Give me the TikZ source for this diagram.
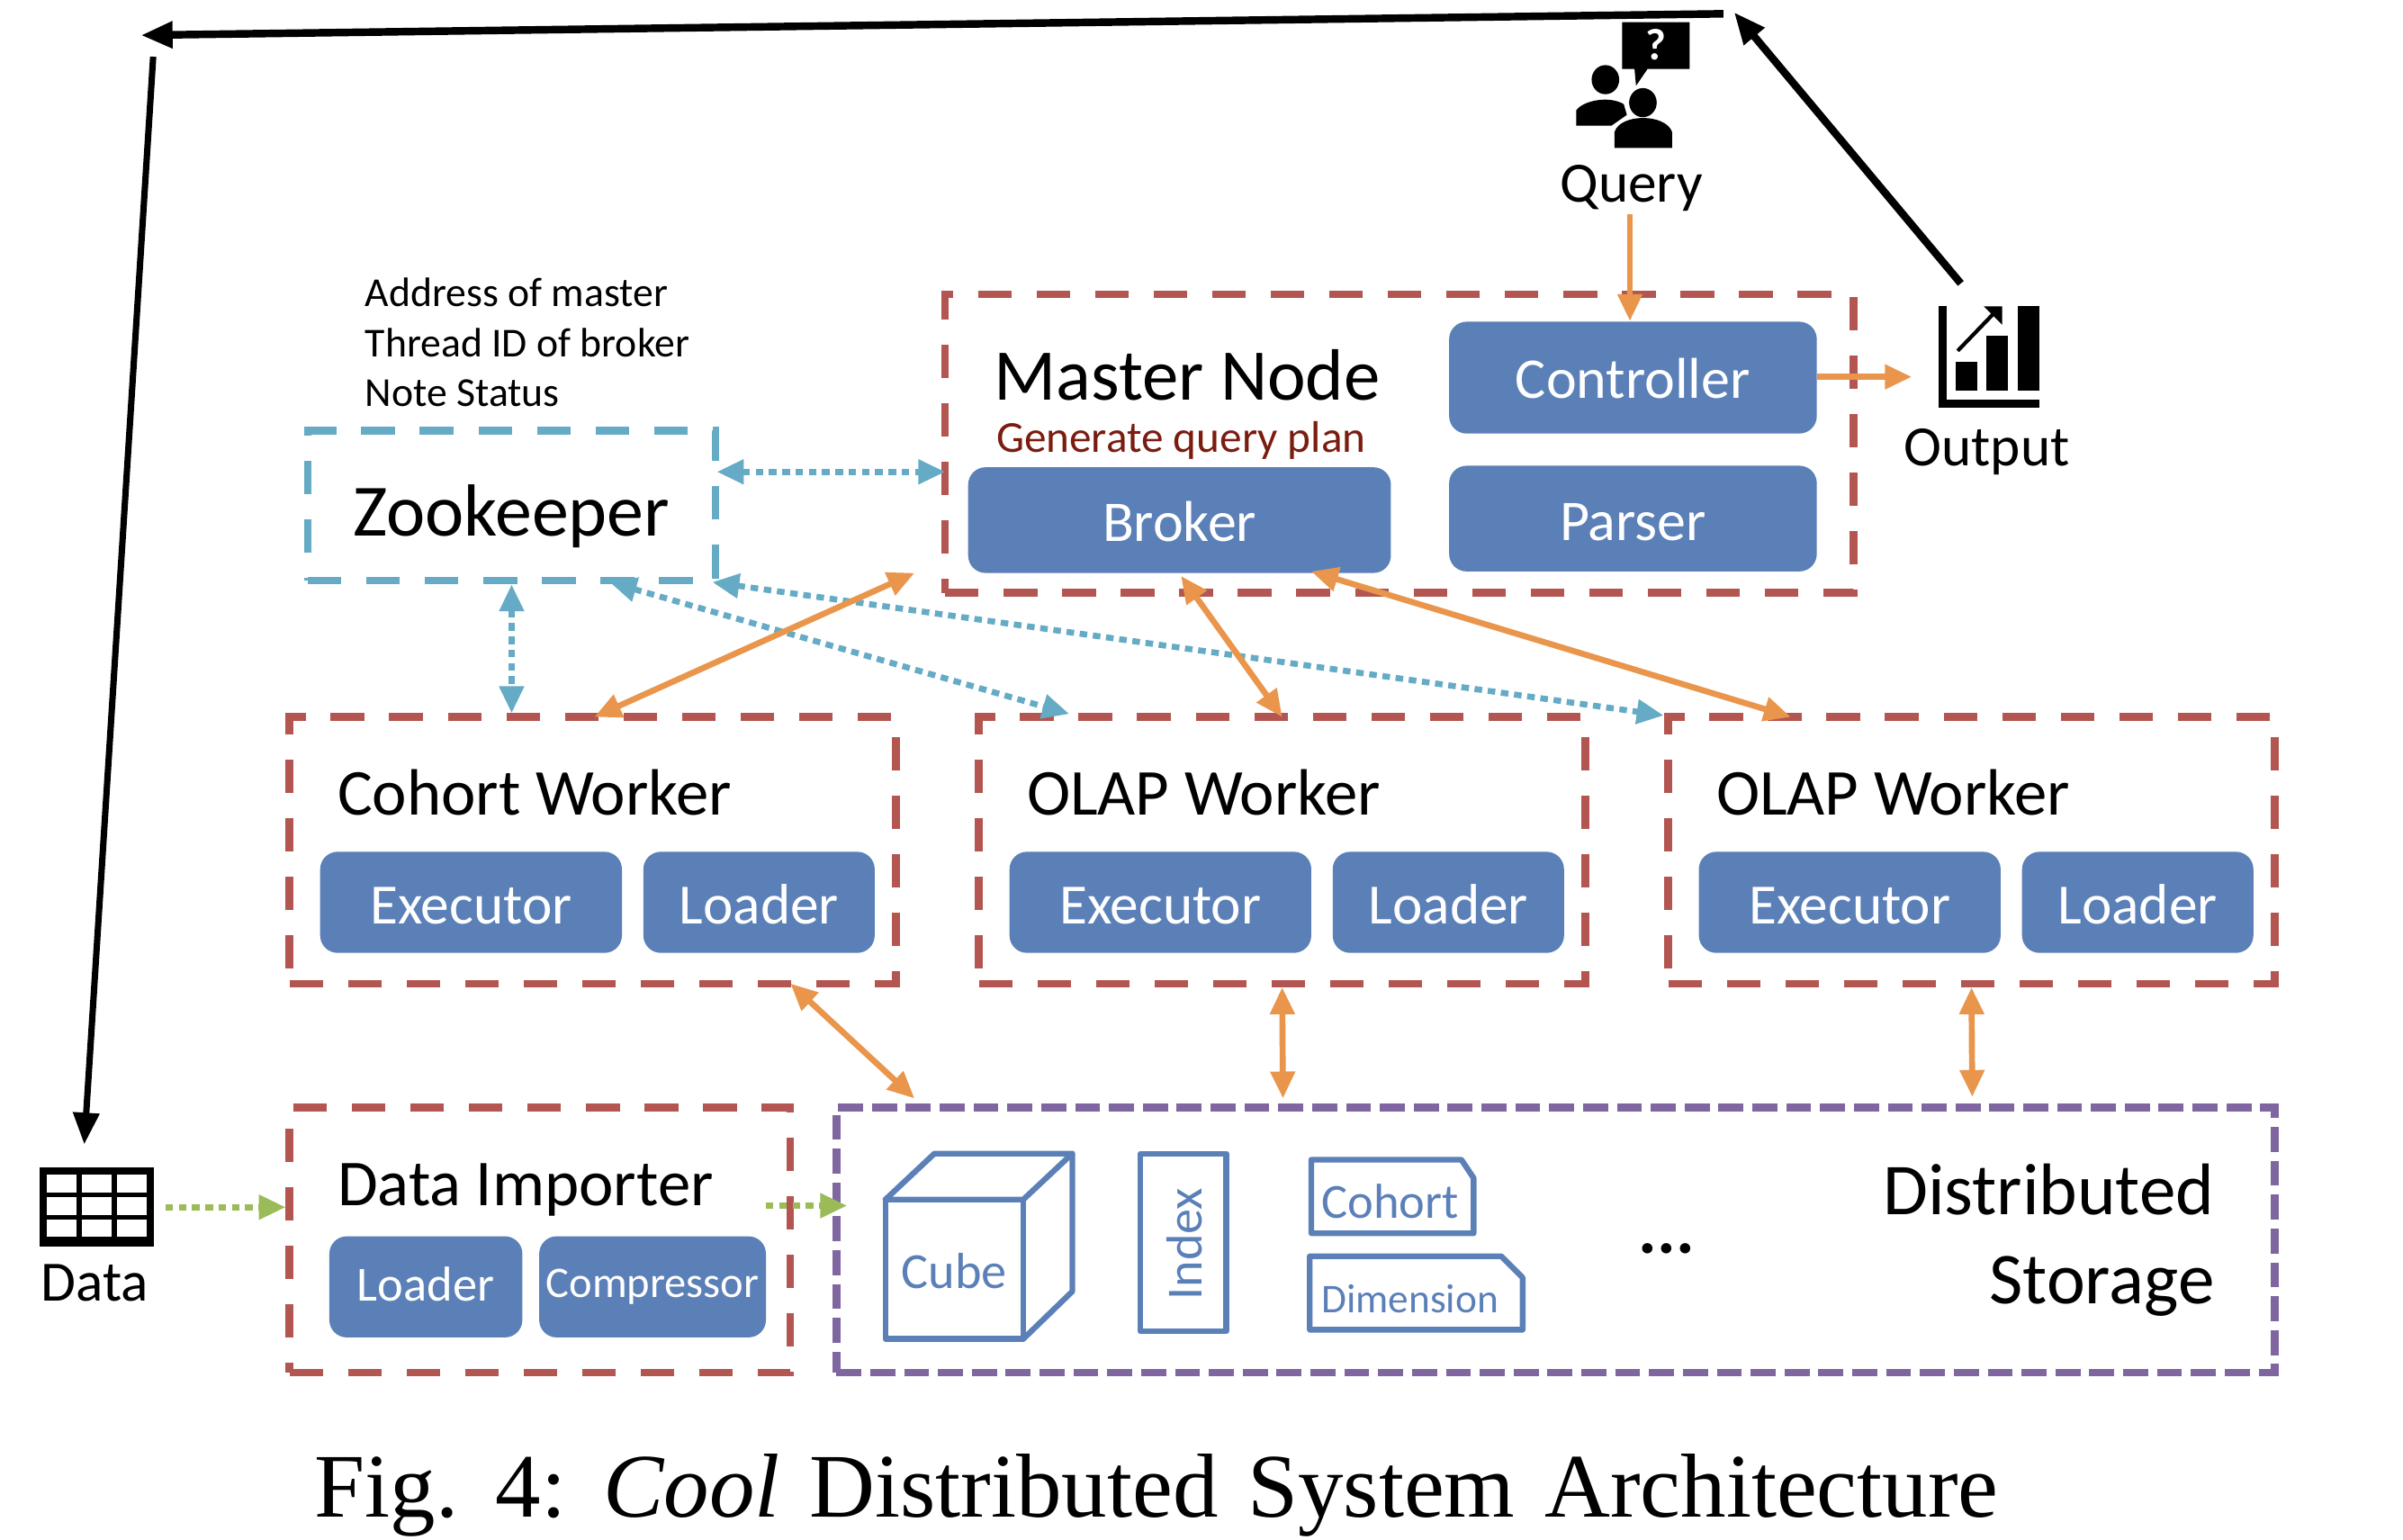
\documentclass[tikz,border=0pt]{standalone}
\usepackage{fontspec}
\setmainfont{Carlito}
\newfontfamily\capfont[WordSpace=1.3]{Liberation Serif}
\usetikzlibrary{arrows.meta}
\def\pxu{.01702cm}
\definecolor{boxred}{HTML}{B35651}
\definecolor{boxteal}{HTML}{66ABC5}
\definecolor{boxpurple}{HTML}{7F66A0}
\definecolor{boxblue}{HTML}{5B80B8}
\definecolor{linkorange}{HTML}{E9964C}
\definecolor{linkgreen}{HTML}{9BBB59}
\definecolor{planred}{HTML}{7B1C10}
\tikzset{
  fs/.style={font=\fontsize{#1}{#1}\selectfont},
  wh/.style 2 args={minimum width=#1*\pxu,minimum height=#2*\pxu},
  lbl/.style={inner sep=0pt,anchor=base west},
  mid/.style={inner sep=0pt,anchor=base},
  frame/.style={draw,inner sep=0pt,line width=2.4pt,dash pattern=on 10.6pt off 7.9pt},
  redbox/.style={frame,draw=boxred},
  tealbox/.style={frame,draw=boxteal},
  purplebox/.style={frame,draw=boxpurple,dash pattern=on 7.9pt off 2.8pt},
  bluebox/.style={fill=boxblue,rounded corners=5.5pt,text=white,inner sep=0pt},
  workpart/.style={bluebox,wh={#1}{66},fs=18,text height=13.6pt,text depth=0pt},
  tag/.style={draw=boxblue,line width=1.8pt,line join=round},
  link/.style={linkorange,line width=1.9pt,{Triangle[length=8.5pt,width=7.5pt]}-{Triangle[length=8.5pt,width=7.5pt]}},
  oneway/.style={linkorange,line width=1.9pt,-{Triangle[length=8.5pt,width=7.5pt]}},
  dots/.style={boxteal,line width=1.9pt,dash pattern=on 2.4pt off 1.8pt,{Triangle[length=8.5pt,width=7.5pt]}-{Triangle[length=8.5pt,width=7.5pt]}},
  greendots/.style={linkgreen,line width=1.9pt,dash pattern=on 2.4pt off 1.8pt,-{Triangle[length=8.5pt,width=7.5pt]}},
  thickblack/.style={black,line width=2.4pt,-{Triangle[length=10pt,width=8pt]}}
}
\begin{document}
\begin{tikzpicture}[x=\pxu,y=-\pxu]
\useasboundingbox (0,0) rectangle (1568.7,1004.7);

\node[redbox,wh={593}{195}] (master) at (913.5,289.5) {};
\node[tealbox,wh={266}{98}] (zookeeper) at (334,330) {};
\node[redbox,wh={396}{174}] (cohort) at (387,555) {};
\node[redbox,wh={396}{174}] (olapA) at (837,555) {};
\node[redbox,wh={396}{174}] (olapB) at (1287,555) {};
\node[redbox,wh={327}{173}] (importer) at (352.5,809.5) {};
\node[purplebox,wh={939}{173}] (storage) at (1015.5,809.5) {};

\node[bluebox,wh={240}{73},fs=18.2,text height=13pt,text depth=0pt] (controller) at (1066,246.5) {Controller};
\node[bluebox,wh={240}{69},fs=18.2,text height=13.6pt,text depth=0pt] (parser) at (1066,338.5) {Parser};
\node[bluebox,wh={276}{69},fs=18.2,text height=13.6pt,text depth=0pt] (broker) at (770,339.5) {Broker};
\node[workpart=197] (execA) at (307.5,589) {Executor};
\node[workpart=151] (loadA) at (495.5,589) {Loader};
\node[workpart=197] (execB) at (757.5,589) {Executor};
\node[workpart=151] (loadB) at (945.5,589) {Loader};
\node[workpart=197] (execC) at (1207.5,589) {Executor};
\node[workpart=151] (loadC) at (1395.5,589) {Loader};
\node[bluebox,wh={126}{66},fs=15.5,text depth=2pt] (loadD) at (278,840) {Loader};
\node[bluebox,wh={148}{66},fs=13.8] (compressor) at (426,840) {Compressor};

\node[lbl,fs=23] (mastertitle) at (648.5,261) {Master Node};
\node[lbl,fs=14,text=planred] (plan) at (650,295) {Generate query plan};
\node[lbl,fs=23.3] (zootitle) at (230,350) {Zookeeper};
\node[lbl,fs=13] (addr) at (238,200) {Address of master};
\node[lbl,fs=13] (thread) at (238,233) {Thread ID of broker};
\node[lbl,fs=13] (status) at (238,265) {Note Status};
\node[lbl,fs=20.7] (cohorttitle) at (220,532) {Cohort Worker};
\node[lbl,fs=20.7] (olapAtitle) at (670,532) {OLAP Worker};
\node[lbl,fs=20.7] (olapBtitle) at (1120,532) {OLAP Worker};
\node[lbl,fs=20.7] (importertitle) at (220,787) {Data Importer};
\node[mid,fs=18] (querylabel) at (1065,132) {Query};
\node[mid,fs=18] (outputlabel) at (1297,304) {Output};
\node[mid,fs=18] (datalabel) at (62,849) {Data};
\node[inner sep=0pt,anchor=base east,fs=23.1] (distlabel) at (1446,793) {Distributed};
\node[inner sep=0pt,anchor=base east,fs=23.1] (storelabel) at (1446,851) {Storage};
\node[mid,font=\bfseries\fontsize{22}{22}\selectfont] (more) at (1088,818) {...};
\node[mid,font=\capfont\fontsize{28.7}{28.7}\selectfont] (caption) at (755,990) {Fig. 4: \textit{Cool} Distributed System Architecture};

\draw[tag] (578,783) -- (610,753) -- (700,753) -- (668,783) -- cycle;
\draw[tag] (578,783) rectangle (668,874);
\draw[tag] (700,753) -- (700,843) -- (668,874);
\node[mid,fs=16,text=boxblue] (cubelabel) at (623,841) {Cube};
\draw[tag] (744.5,753) rectangle (800.5,869);
\node[inner sep=0pt,rotate=90,fs=16,text=boxblue] (indexlabel) at (773,812) {Index};
\draw[tag] (856,757) -- (954,757) -- (962,769) -- (962,805) -- (856,805) -- cycle;
\node[mid,fs=15.5,text=boxblue] (cohortlabel) at (907.5,795) {Cohort};
\draw[tag] (855,820) -- (980,820) -- (994,834) -- (994,868) -- (855,868) -- cycle;
\node[mid,fs=12.9,text=boxblue] (dimlabel) at (920.5,857) {Dimension};

\fill (1059,14.5) -- (1103,14.5) -- (1103,45) -- (1075.5,45) -- (1068,56) -- (1067,45) -- (1059,45) -- cycle;
\node[inner sep=0pt,fs=14,text=white] (qmark) at (1081,29) {\textbf{?}};
\fill (1048,52) ellipse (9 and 9.5);
\fill (1072.5,67) ellipse (9 and 9.5);
\fill (1029,82) -- (1029,72) .. controls (1033,66) and (1050,62) .. (1060,68) -- (1062,75) -- (1052,82) -- cycle;
\fill (1054,96.5) -- (1054,86) .. controls (1058,74) and (1087,74) .. (1091.5,86) -- (1091.5,96.5) -- cycle;

\fill (1265.4,199.7) rectangle (1271,266);
\fill (1265.4,261) rectangle (1331.3,266);
\fill (1276.6,236) rectangle (1291,255);
\fill (1296.8,219) rectangle (1311,255);
\fill (1317.3,199.7) rectangle (1331.3,255);
\draw[line width=1.2pt] (1278,229) -- (1305,201);
\fill (1295,200) -- (1307,200) -- (1307,212) -- cycle;

\fill (26,762) rectangle (100.5,814);
\foreach \cx in {30.6,53.4,76.2}
  \foreach \cy in {767,781.5,796}
    \fill[white] (\cx,\cy) rectangle ++(19.4,11.5);

\coordinate (topright) at (1125,9);
\coordinate (topleft) at (92,23);
\coordinate (sidetop) at (100,37);
\coordinate (sidedown) at (55,747);
\coordinate (outtail) at (1280,185);
\coordinate (outtip) at (1132,8);
\draw[thickblack] (topright) -- (topleft);
\draw[thickblack] (outtail) -- (outtip);
\draw[thickblack,line width=2pt] (sidetop) -- (sidedown);

\coordinate (querytail) at (1064,140);
\coordinate (outputend) at (1248,246);
\draw[oneway] (querytail) -- (controller.north -| querytail);
\draw[oneway] (controller.east |- outputend) -- (outputend);

\coordinate (zoomid) at (468,308);
\coordinate (mastermid) at (617,308);
\coordinate (zooA) at (398,380);
\coordinate (olapAin) at (698,466);
\coordinate (zooB) at (465,380);
\coordinate (olapBin) at (1086,467);
\draw[dots] (zoomid) -- (mastermid);
\draw[dots] (zookeeper.south) -- (zookeeper.south |- cohort.north);
\draw[dots] (zooA) -- (olapAin);
\draw[dots] (zooB) -- (olapBin);

\coordinate (cohortup) at (388,468);
\coordinate (masterlow) at (597,374);
\coordinate (brokerA) at (771,376);
\coordinate (olapAup) at (837,468);
\coordinate (brokerB) at (856,373);
\coordinate (olapBup) at (1169,468);
\coordinate (cohortlow) at (516,642);
\coordinate (storeA) at (597,717);
\draw[link] (cohortup) -- (masterlow);
\draw[link] (brokerA) -- (olapAup);
\draw[link] (brokerB) -- (olapBup);
\draw[link] (cohortlow) -- (storeA);
\draw[link] (olapA.south) -- (837.5,717);
\draw[link] (olapB.south) -- (1287.5,716);

\coordinate (datatail) at (108,788);
\coordinate (importtail) at (500,787);
\coordinate (storein) at (553,787);
\draw[greendots] (datatail) -- (datatail -| importer.west);
\draw[greendots] (importtail) -- (storein);
\end{tikzpicture}
\end{document}
